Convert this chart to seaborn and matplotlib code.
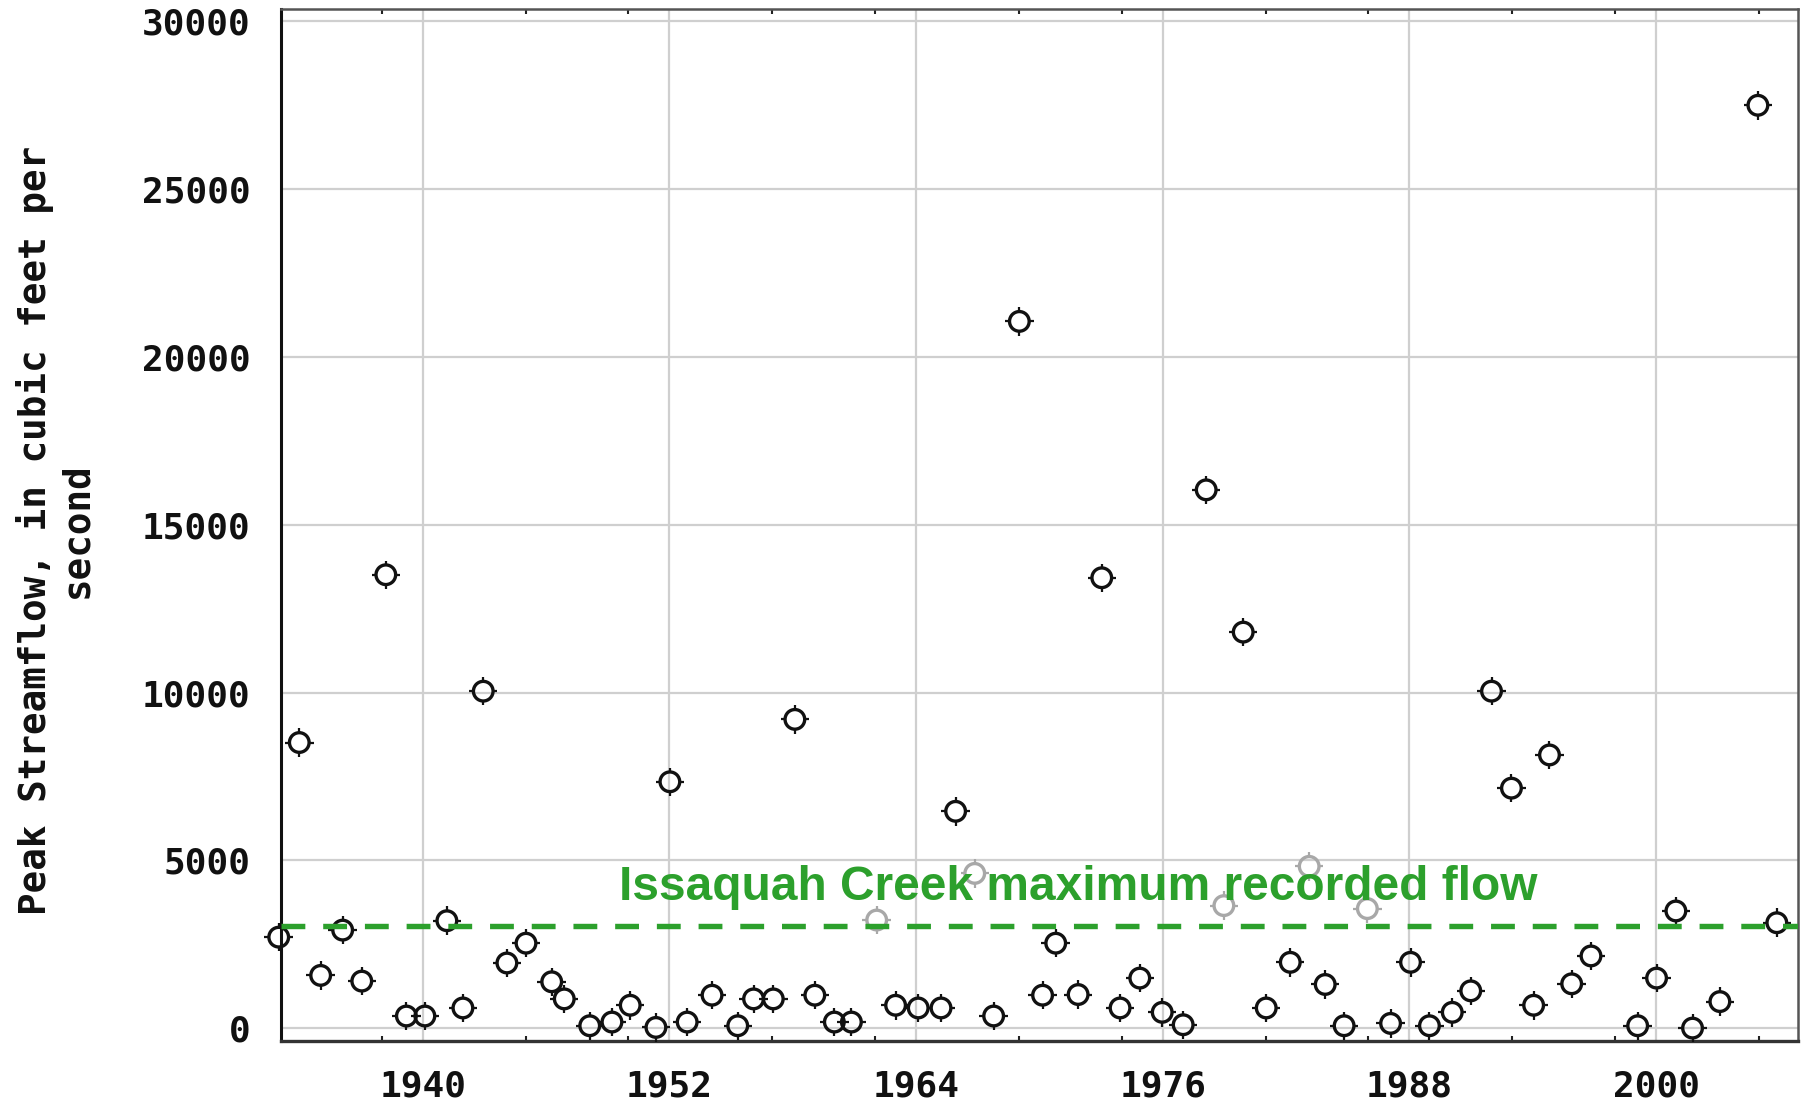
import numpy as np
import pandas as pd
import matplotlib
matplotlib.use("Agg")
import matplotlib.pyplot as plt
import seaborn as sns
from matplotlib.path import Path

sns.set_style("white")
plt.rcParams['font.family'] = ['DejaVu Sans Mono', 'DejaVu Sans']

# ---- data (decimal year of annual peak, peak streamflow in cfs) ----
years_approved = [1932.99, 1933.99, 1935.03, 1936.10, 1937.03, 1938.20, 1939.20, 1940.10,
                  1941.17, 1941.95, 1942.94, 1944.09, 1945.02, 1946.27, 1946.88, 1948.12,
                  1949.20, 1950.09, 1951.34, 1952.02, 1952.86, 1954.07, 1955.32, 1956.09,
                  1957.05, 1958.10, 1959.07, 1960.02, 1960.85, 1963.00, 1964.10, 1965.21,
                  1965.92, 1967.77, 1969.02, 1970.15, 1970.79, 1971.88, 1973.03, 1973.92,
                  1974.88, 1975.97, 1976.99, 1978.11, 1979.91, 1981.03, 1982.20, 1983.90,
                  1984.82, 1987.08, 1988.05, 1988.97, 1990.08, 1990.98, 1991.99, 1992.96,
                  1994.04, 1994.81, 1995.89, 1996.83, 1999.10, 2000.02, 2000.96, 2001.77,
                  2003.10, 2004.95, 2005.87]
flow_approved = [2710, 8510, 1570, 2920, 1400, 13510, 360, 360,
                 3200, 600, 10040, 1940, 2530, 1380, 870, 70,
                 180, 680, 20, 7340, 180, 980, 70, 870,
                 870, 9200, 980, 180, 180, 680, 600, 600,
                 6460, 360, 21060, 980, 2530, 1000, 13420, 600,
                 1490, 470, 100, 16040, 11800, 600, 1960, 1300,
                 70, 140, 1960, 70, 470, 1110, 10040, 7150,
                 680, 8140, 1320, 2150, 70, 1490, 3490, 0,
                 790, 27500, 3140]
years_gray = [1962.08, 1966.85, 1978.97, 1983.12, 1985.95]
flow_gray = [3220, 4610, 3650, 4820, 3560]

issaquah_max = 3030
annotation = "Issaquah Creek maximum recorded flow"
ylabel = "Peak Streamflow, in cubic feet per\nsecond"
x_major = [1940, 1952, 1964, 1976, 1988, 2000]
x_minor = [1938, 1945, 1950, 1957, 1962, 1969, 1974, 1981, 1986, 1993, 1998, 2005]
y_major = [0, 5000, 10000, 15000, 20000, 25000, 30000]

df_a = pd.DataFrame({"year": years_approved, "flow": flow_approved})
df_g = pd.DataFrame({"year": years_gray, "flow": flow_gray})

# ---- figure ----
fig = plt.figure(figsize=(18.09, 11.02), dpi=100)
ax = fig.add_axes([0.1551, 0.0558, 0.8387, 0.9356])

tick_marker = Path([(0, 0.72), (0, 1), (0, -0.72), (0, -1),
                    (0.72, 0), (1, 0), (-0.72, 0), (-1, 0)],
                   [Path.MOVETO, Path.LINETO] * 4)

for d, col in ((df_a, "#111111"), (df_g, "#a8a8a8")):
    sns.scatterplot(data=d, x="year", y="flow", ax=ax, s=200, marker="o",
                    facecolor="none", edgecolor=col, linewidth=2.4,
                    legend=False, clip_on=False, zorder=3)
    sns.scatterplot(data=d, x="year", y="flow", ax=ax, s=420, marker=tick_marker,
                    facecolor="none", edgecolor=col, linewidth=1.6,
                    legend=False, clip_on=False, zorder=3)

ax.axhline(issaquah_max, color="#2ca02c", lw=3.9, dashes=(4.4, 3.3), zorder=4)
ax.text(1949.55, 3809, annotation, color="#2ca02c", fontsize=34.5, fontweight="bold",
        family=["Liberation Sans", "DejaVu Sans"], ha="left", va="baseline", zorder=5)

ax.set_xlim(1933.08, 2006.89)
ax.set_ylim(-370, 30355)
ax.set_xticks(x_major)
ax.set_xticks(x_minor, minor=True)
ax.set_yticks(y_major)
ax.set_xlabel("")
ax.set_ylabel("")
ax.grid(True, which="major", color="#cfcfcf", linewidth=1.6, zorder=0)
ax.set_axisbelow(True)

ax.tick_params(axis="x", which="major", length=0, pad=21, labelsize=26)
ax.tick_params(axis="x", which="minor", direction="in", length=3.5, width=1.5,
               top=True, bottom=True, color="#222222")
ax.tick_params(axis="y", which="major", length=0, pad=21.5, labelsize=26)
for lbl in ax.get_xticklabels() + ax.get_yticklabels():
    lbl.set_fontweight("bold")
    lbl.set_color("#111111")

ax.spines["left"].set(color="#111111", linewidth=2.2)
ax.spines["bottom"].set(color="#333333", linewidth=2.4)
ax.spines["top"].set(color="#555555", linewidth=1.8)
ax.spines["right"].set(color="#555555", linewidth=1.8)

fig.text(0.0307, 0.519, ylabel, rotation=90, ha="center", va="center",
         multialignment="center", fontsize=27, fontweight="bold", color="#111111",
         linespacing=1.2)

fig.savefig("out.png", dpi=100)
